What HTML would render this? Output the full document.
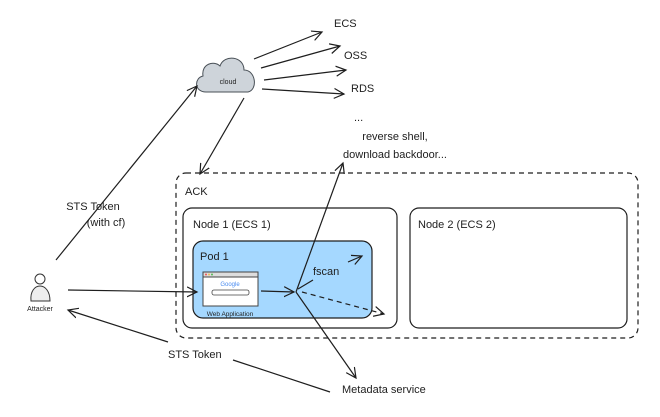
<!DOCTYPE html>
<html><head><meta charset="utf-8"><style>
body{margin:0;background:#fff}
svg text{font-family:"Liberation Sans",sans-serif;fill:#1e1e1e}
</style></head><body>
<svg width="660" height="412" viewBox="0 0 660 412" xmlns="http://www.w3.org/2000/svg">
<defs>
<marker id="a" markerWidth="12" markerHeight="12" refX="10" refY="6" orient="auto" markerUnits="userSpaceOnUse">
<path d="M0,1 L10,6 L0,11" fill="none" stroke="#1e1e1e" stroke-width="1.2"/></marker>
</defs>
<g fill="none" stroke="#1e1e1e" stroke-width="1.2">
<rect x="176" y="173" width="462" height="165" rx="10" stroke-dasharray="5,4"/>
<rect x="183" y="208" width="214" height="120" rx="9"/>
<rect x="410" y="208" width="217" height="120" rx="9"/>
<rect x="193" y="241" width="179" height="77" rx="10" fill="#a5d8ff"/>
</g>
<rect x="203" y="272" width="55" height="34" fill="#fff" stroke="#444" stroke-width="1"/>
<rect x="203" y="272" width="55" height="5" fill="#ddd" stroke="#444" stroke-width="1"/>
<circle cx="206" cy="274.5" r="1" fill="#e55"/><circle cx="209" cy="274.5" r="1" fill="#eb5"/><circle cx="212" cy="274.5" r="1" fill="#5b5"/>
<text x="230" y="286" font-size="6" text-anchor="middle" style="fill:#4a8cf0">Google</text>
<rect x="212" y="290" width="37" height="5" rx="2" fill="#fff" stroke="#444" stroke-width="0.8"/>
<text x="230" y="316" font-size="6.5" text-anchor="middle">Web Application</text>
<path d="M206,92 C194,92 194,78 203,76 C201,64 214,60 220,66 C224,54 244,56 244,70 C256,70 258,90 248,92 Z" fill="#ced4da" stroke="#495057" stroke-width="1"/>
<text x="228" y="84" font-size="7" text-anchor="middle">cloud</text>
<circle cx="40" cy="279" r="5" fill="#fff" stroke="#333"/>
<path d="M31,301 C30,291 35,286 40,286 C45,286 50,291 50,301 Z" fill="#eee" stroke="#333"/>
<text x="40" y="311" font-size="7" text-anchor="middle">Attacker</text>
<g fill="none" stroke="#1e1e1e" stroke-width="1.2" marker-end="url(#a)">
<path d="M254,59 L322,32"/>
<path d="M261,68 L340,46"/>
<path d="M264,80 L346,70"/>
<path d="M262,89 L344,94"/>
<path d="M56,260 L197,86"/>
<path d="M244,98 L200,174"/>
<path d="M68,290 L197,292"/>
<path d="M261,291 L294,292"/>
<path d="M296,292 L343,163"/>
<path d="M296,292 L356,378"/>
<path d="M168,342 L68,310"/>
<path d="M302,292 L384,314" stroke-dasharray="5,4"/>
<path d="M348,262 L362,256"/>
</g>
<line x1="298" y1="289" x2="313" y2="280" stroke="#1e1e1e" stroke-width="1.2"/>
<line x1="233" y1="360" x2="330" y2="392" stroke="#1e1e1e" stroke-width="1.2"/>
<g font-size="11">
<text x="334" y="27">ECS</text>
<text x="344" y="59">OSS</text>
<text x="351" y="92">RDS</text>
<text x="354" y="121">...</text>
<text x="93" y="210" text-anchor="middle">STS Token</text>
<text x="106" y="226" text-anchor="middle">(with cf)</text>
<text x="395" y="140" text-anchor="middle">reverse shell,</text>
<text x="395" y="158" text-anchor="middle">download backdoor...</text>
<text x="185" y="195">ACK</text>
<text x="193" y="228">Node 1 (ECS 1)</text>
<text x="418" y="228">Node 2 (ECS 2)</text>
<text x="200" y="260">Pod 1</text>
<text x="313" y="275">fscan</text>
<text x="168" y="358">STS Token</text>
<text x="342" y="393">Metadata service</text>
</g>
</svg>
</body></html>
